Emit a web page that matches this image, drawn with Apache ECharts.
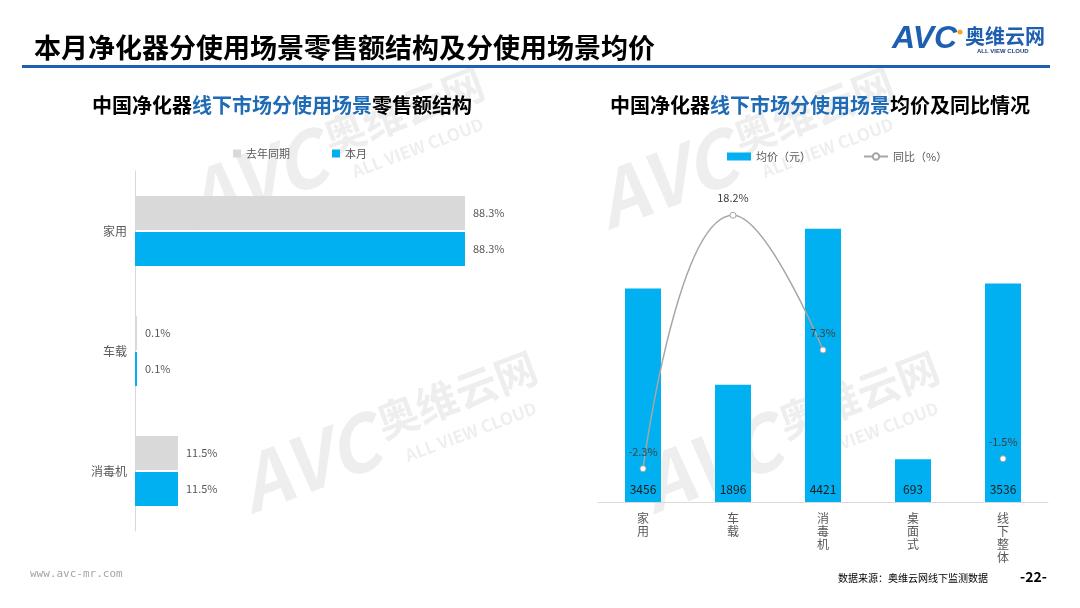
<!DOCTYPE html>
<html><head><meta charset="utf-8">
<script src="https://cdn.jsdelivr.net/npm/echarts@6/dist/echarts.min.js"></script>
<style>html,body{margin:0;padding:0;background:#fff}#c{width:1080px;height:608px}</style>
</head><body><div id="c"></div>
<script>
// ---- data ----
var shareCategories = ['家用', '车载', '消毒机'];
var shareLastYear = [88.3, 0.1, 11.5];
var shareThisMonth = [88.3, 0.1, 11.5];
var priceCategories = ['家用', '车载', '消毒机', '桌面式', '线下整体'];
var avgPrice = [3456, 1896, 4421, 693, 3536];
var yoy = [-2.3, 18.2, 7.3, '-', -1.5];

var FONT = '"Noto Sans CJK SC", "Microsoft YaHei", sans-serif';
var BLUE = '#00B0F0', GRAY = '#D9D9D9', TXT = '#595959';
var WM = 'rgba(0,0,0,0.065)';

function watermark(x, y) {
  return {
    type: 'group', x: x, y: y, rotation: 0.36, z: -10, silent: true,
    children: [
      {type: 'text', x: 0, y: 0, style: {text: 'AVC', font: 'italic bold 76px ' + FONT, fill: WM}},
      {type: 'text', x: 150, y: 6, style: {text: '奥维云网', font: 'bold 42px ' + FONT, fill: WM}},
      {type: 'text', x: 165, y: 58, style: {text: 'ALL VIEW CLOUD', font: 'bold 17px ' + FONT, fill: WM}}
    ]
  };
}

var chart = echarts.init(document.getElementById('c'), null, {renderer: 'canvas'});
chart.setOption({
  backgroundColor: '#fff',
  textStyle: {fontFamily: FONT},
  animation: false,
  title: [
    {text: '本月净化器分使用场景零售额结构及分使用场景均价', left: 29, top: 29,
     textStyle: {fontSize: 27, fontWeight: 'bold', color: '#000', fontFamily: FONT}},
    {text: '{a|中国净化器}{b|线下市场分使用场景}{a|零售额结构}', left: 87, top: 90,
     textStyle: {rich: {
       a: {fontSize: 20, fontWeight: 'bold', color: '#000', fontFamily: FONT},
       b: {fontSize: 20, fontWeight: 'bold', color: '#1F6BB5', fontFamily: FONT}}}},
    {text: '{a|中国净化器}{b|线下市场分使用场景}{a|均价及同比情况}', left: 605, top: 90,
     textStyle: {rich: {
       a: {fontSize: 20, fontWeight: 'bold', color: '#000', fontFamily: FONT},
       b: {fontSize: 20, fontWeight: 'bold', color: '#1F6BB5', fontFamily: FONT}}}}
  ],
  graphic: [
    watermark(175, 168),
    watermark(228, 452),
    watermark(585, 168),
    watermark(630, 452),
    {type: 'rect', shape: {x: 22, y: 65, width: 1028, height: 3}, style: {fill: '#1F5FB0'}},
    {type: 'text', x: 892, y: 23, style: {text: 'AVC', font: 'italic bold 32px Arial, ' + FONT, fill: '#1F5FB0'}},
    {type: 'circle', shape: {cx: 960, cy: 32, r: 2.5}, style: {fill: '#F5A623'}},
    {type: 'text', x: 965, y: 26, style: {text: '奥维云网', font: 'bold 20px ' + FONT, fill: '#1F5FB0'}},
    {type: 'text', x: 977, y: 48, style: {text: 'ALL VIEW CLOUD', font: 'bold 6px Arial', fill: '#1F3F7F'}},
    {type: 'text', x: 30, y: 569, style: {text: 'www.avc-mr.com', font: '11px "DejaVu Sans Mono", monospace', fill: '#A6A6A6'}},
    {type: 'text', x: 838, y: 573, style: {text: '数据来源：奥维云网线下监测数据', font: '10px ' + FONT, fill: '#000'}},
    {type: 'text', x: 1020, y: 570, style: {text: '-22-', font: 'bold 14px ' + FONT, fill: '#000'}}
  ],
  legend: [
    {left: 228, top: 143, itemWidth: 8, itemHeight: 8, itemGap: 42, icon: 'rect',
     data: ['去年同期', '本月'], textStyle: {fontSize: 11, color: TXT, fontFamily: FONT}},
    {left: 722, top: 146, itemWidth: 24, itemHeight: 8, itemGap: 52,
     data: [{name: '均价（元）', icon: 'rect'}, {name: '同比（%）'}],
     textStyle: {fontSize: 11, color: TXT, fontFamily: FONT}}
  ],
  grid: [
    {left: 135, top: 171, width: 373.7, height: 360},
    {left: 598, top: 193, width: 450, height: 309}
  ],
  xAxis: [
    {gridIndex: 0, type: 'value', min: 0, max: 100, show: false},
    {gridIndex: 1, type: 'category', data: priceCategories,
     axisLine: {lineStyle: {color: '#D9D9D9'}}, axisTick: {show: false},
     axisLabel: {color: TXT, fontSize: 12, lineHeight: 13, margin: 10, interval: 0,
       formatter: function (v) { return v.split('').join('\n'); }}}
  ],
  yAxis: [
    {gridIndex: 0, type: 'category', data: shareCategories, inverse: true,
     axisLine: {lineStyle: {color: '#D9D9D9'}}, axisTick: {show: false},
     axisLabel: {color: TXT, fontSize: 12, margin: 8}},
    {gridIndex: 1, type: 'value', min: 0, max: 5000, show: false},
    {gridIndex: 1, type: 'value', min: -5, max: 20, show: false}
  ],
  series: [
    {name: '去年同期', type: 'bar', xAxisIndex: 0, yAxisIndex: 0, data: shareLastYear,
     barWidth: 34, barGap: '6%', barMinHeight: 2, itemStyle: {color: GRAY},
     label: {show: true, position: 'right', distance: 8, formatter: '{c}%', color: TXT, fontSize: 11}},
    {name: '本月', type: 'bar', xAxisIndex: 0, yAxisIndex: 0, data: shareThisMonth,
     barWidth: 34, barMinHeight: 2, itemStyle: {color: BLUE},
     label: {show: true, position: 'right', distance: 8, formatter: '{c}%', color: TXT, fontSize: 11}},
    {name: '均价（元）', type: 'bar', xAxisIndex: 1, yAxisIndex: 1, data: avgPrice,
     barWidth: 36, itemStyle: {color: BLUE},
     label: {show: true, position: 'insideBottom', distance: 7, color: '#1A1A1A', fontSize: 12}},
    {name: '同比（%）', type: 'line', xAxisIndex: 1, yAxisIndex: 2, data: yoy,
     smooth: 0.5, connectNulls: false, symbol: 'circle', symbolSize: 6,
     lineStyle: {color: '#A6A6A6', width: 1.5},
     itemStyle: {color: '#fff', borderColor: '#A6A6A6', borderWidth: 1},
     label: {show: true, position: 'top', distance: 8, formatter: '{c}%', color: '#404040', fontSize: 11},
     z: 5}
  ]
});
</script></body></html>
